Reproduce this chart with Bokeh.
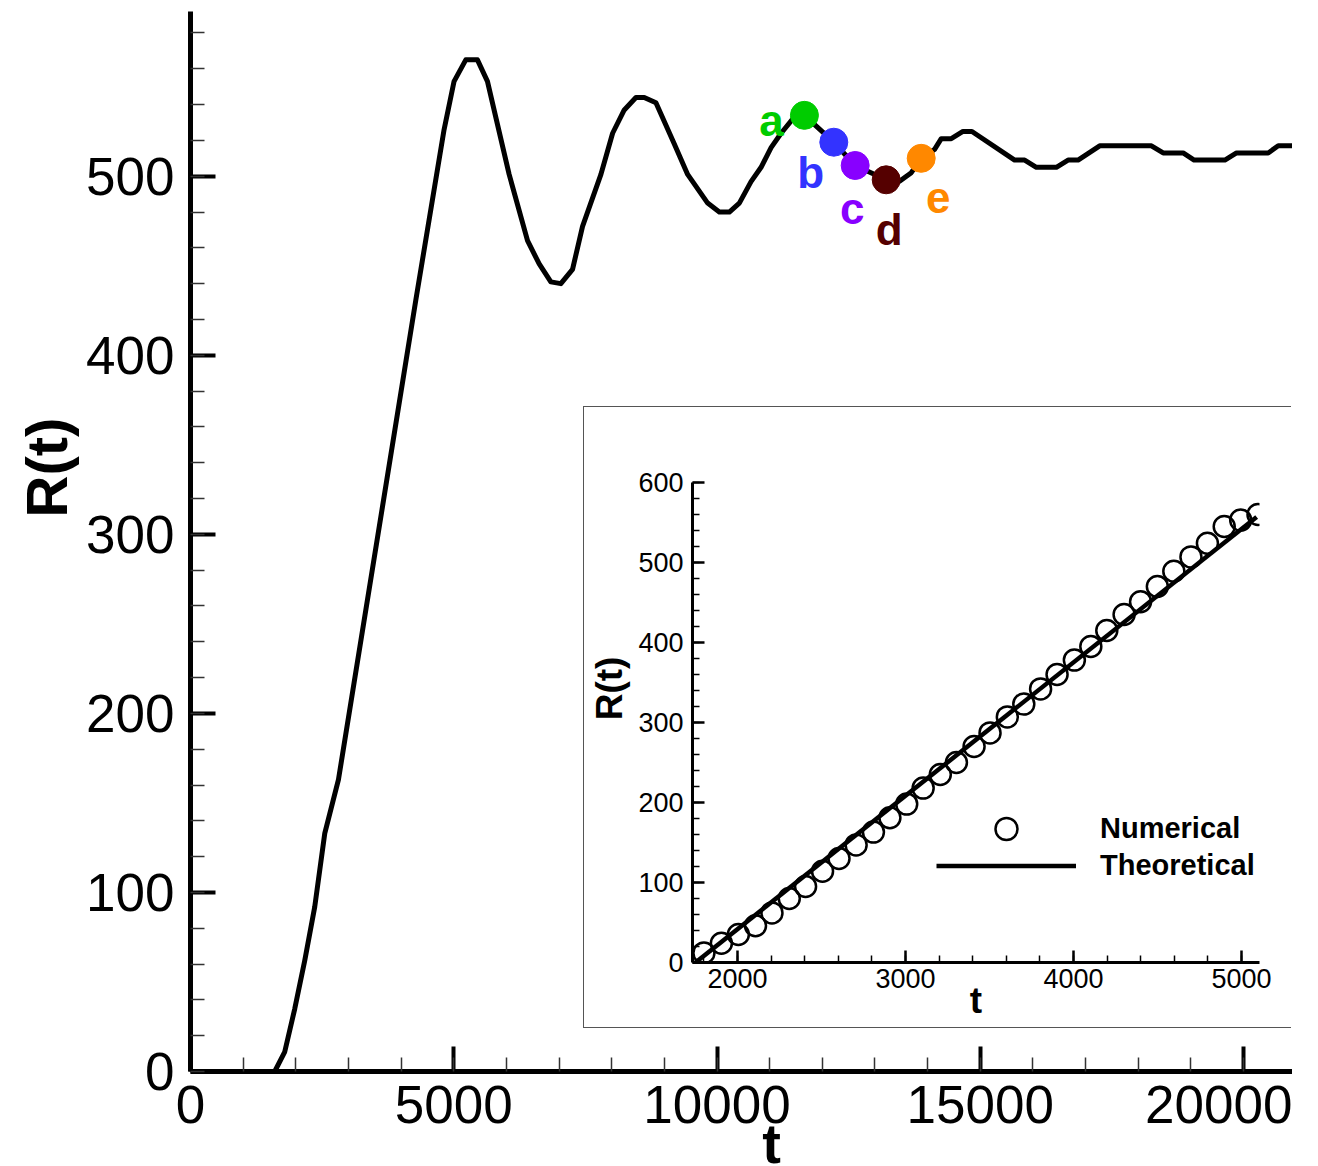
from bokeh.plotting import figure
from bokeh.models import Range1d, Legend, LegendItem, FixedTicker, ColumnDataSource
from bokeh.embed import file_html
from bokeh.resources import INLINE
from bokeh.core.properties import value
import math

# ---------------- data ----------------
t_main = [0, 1600, 1790, 1980, 2170, 2360, 2550, 2810, 4280, 4816, 5006, 5228, 5450,
          5640, 5798, 6052, 6401, 6623, 6844, 7034, 7256, 7446, 7795, 8017, 8238,
          8460, 8618, 8840, 9189, 9442, 9822, 10044, 10234, 10424, 10646, 10837,
          11027, 11217, 11439, 11660, 12218, 12624, 13213, 13460, 13690, 13878,
          14132, 14259, 14449, 14671, 14842, 15653, 15843, 16065, 16445, 16667,
          16857, 17268, 18251, 18473, 18853, 19062, 19645, 19867, 20469, 20659, 20944]
R_main = [0, 0, 11, 35, 62, 92, 133, 163, 431, 526, 553, 565, 565,
          553, 533, 501, 464, 451, 441, 440, 448, 472, 501, 524, 537,
          544, 544, 541, 518, 501, 485, 480, 480, 485, 497, 505,
          516, 524, 532, 534, 519, 506, 498, 497, 502, 510,
          515, 521, 521, 525, 525, 509, 509, 505, 505, 509,
          509, 517, 517, 513, 513, 509, 509, 513, 513, 517, 517]

mark_t = [11660, 12218, 12624, 13213, 13878]
mark_R = [534, 519, 506, 498, 510]
mark_labels = ["a", "b", "c", "d", "e"]

num_t = [1800, 1904, 2005, 2107, 2205, 2308, 2405, 2506, 2604, 2706, 2809, 2907,
         3007, 3105, 3207, 3303, 3408, 3503, 3606, 3704, 3804, 3902, 4005, 4103,
         4198, 4301, 4399, 4499, 4597, 4699, 4797, 4897, 4995, 5098]
num_R = [12, 24, 35, 46, 62, 80, 95, 114, 130, 147, 163, 181,
         198, 218, 235, 250, 270, 287, 307, 323, 342, 360, 378, 395,
         415, 435, 451, 470, 489, 507, 524, 545, 553, 560]

theo_t = [1750, 5090]
theo_R = [0, 557]

main_xticks = [0, 5000, 10000, 15000, 20000]
main_yticks = [0, 100, 200, 300, 400, 500]
inset_xticks = [2000, 3000, 4000, 5000]
inset_yticks = [0, 100, 200, 300, 400, 500, 600]

# axis titles
titles = ["t", "R(t)", "R(t)"]

# ---------------- styles ----------------
mark_colors = ["#00CC00", "#3333FF", "#8800FF", "#550000", "#FF8800"]
label_dx = [-33, -23, -3, 3, 17]
label_dy = [5, 30, 43, 50, 39]
FONT = "Liberation Sans"
W, H = 1292, 1164

# ---------------- main figure ----------------
p = figure(width=W, height=H, x_range=Range1d(0, 20930), y_range=Range1d(0, 592),
           output_backend="svg", toolbar_location=None,
           min_border_left=190, min_border_top=11, min_border_right=0, min_border_bottom=93)
p.outline_line_color = None
p.grid.visible = False
p.background_fill_color = None

p.line(t_main, R_main, line_width=5, line_color="black", line_join="round")

src = ColumnDataSource(dict(t=mark_t, R=mark_R, label=mark_labels, color=mark_colors,
                            dx=label_dx, dy=label_dy))
p.scatter("t", "R", source=src, marker="circle", size=28, fill_color="color", line_color="color")
p.text("t", "R", text="label", source=src, x_offset="dx", y_offset="dy", text_color="color",
       text_font=value(FONT), text_font_style="bold", text_font_size="44px",
       text_align="center", text_baseline="alphabetic")

p.xaxis.ticker = FixedTicker(ticks=main_xticks, minor_ticks=list(range(0, 21000, 1000)))
p.yaxis.ticker = FixedTicker(ticks=main_yticks, minor_ticks=list(range(0, 600, 20)))
for ax in (p.xaxis[0], p.yaxis[0]):
    ax.axis_line_width = 5
    ax.axis_line_color = "black"
    ax.major_tick_in = 25
    ax.major_tick_out = 0
    ax.major_tick_line_width = 4
    ax.minor_tick_in = 14
    ax.minor_tick_out = 0
    ax.minor_tick_line_width = 1.5
    ax.minor_tick_line_color = "#333333"
    ax.major_label_text_font = FONT
    ax.major_label_text_font_size = "53px"
    ax.major_label_text_color = "black"
p.xaxis.major_label_standoff = 14
p.yaxis.major_label_standoff = 16

# ---------------- inset figure ----------------
ins = figure(width=708, height=622, x_range=Range1d(1732, 5107), y_range=Range1d(0, 600),
             output_backend="svg", toolbar_location=None,
             min_border_left=108, min_border_right=33, min_border_top=75, min_border_bottom=67)
ins.outline_line_color = None
ins.grid.visible = False

ln = ins.line(theo_t, theo_R, line_width=4.5, line_color="black")
sc = ins.scatter(num_t, num_R, marker="circle", size=21, fill_color=None,
                 line_color="black", line_width=2.5)

ins.xaxis.ticker = FixedTicker(ticks=inset_xticks, minor_ticks=list(range(1800, 5200, 200)))
ins.yaxis.ticker = FixedTicker(ticks=inset_yticks, minor_ticks=list(range(0, 620, 20)))
ins.xaxis.axis_label = titles[0]
for ax in (ins.xaxis[0], ins.yaxis[0]):
    ax.axis_line_width = 3
    ax.axis_line_color = "black"
    ax.major_tick_in = 12
    ax.major_tick_out = 0
    ax.major_tick_line_width = 2.5
    ax.minor_tick_in = 7
    ax.minor_tick_out = 0
    ax.minor_tick_line_width = 1.5
    ax.major_label_text_font = FONT
    ax.major_label_text_font_size = "27px"
    ax.major_label_text_color = "black"
    ax.axis_label_text_font = FONT
    ax.axis_label_text_font_style = "bold"
    ax.axis_label_text_font_size = "37px"
    ax.axis_label_text_color = "black"
ins.xaxis.major_label_standoff = 6
ins.xaxis.axis_label_standoff = -11
ins.yaxis.major_label_standoff = 9

leg_common = dict(glyph_width=140, label_standoff=24, spacing=0, padding=0, margin=0,
                  border_line_color=None, background_fill_alpha=0, label_text_font=FONT,
                  label_text_font_style="bold", label_text_font_size="29px",
                  label_text_color="black")
leg1 = Legend(items=[LegendItem(label="Numerical", renderers=[sc])],
              location=(244, 106), glyph_height=55, **leg_common)
leg2 = Legend(items=[LegendItem(label="Theoretical", renderers=[ln])],
              location=(244, 80), glyph_height=33, **leg_common)
ins.add_layout(leg1)
ins.add_layout(leg2)

ins.styles = {"position": "absolute", "left": "583px", "top": "406px",
              "border-top": "1.5px solid #555555", "border-left": "1.5px solid #555555",
              "border-bottom": "1.5px solid #555555", "background-color": "white"}

# ---------------- transparent overlay carrying the axis titles ----------------
ov = figure(width=W, height=H, x_range=Range1d(0, W), y_range=Range1d(H, 0),
            output_backend="svg", toolbar_location=None, x_axis_type=None, y_axis_type=None,
            min_border_left=0, min_border_right=0, min_border_top=0, min_border_bottom=0)
ov.outline_line_color = None
ov.grid.visible = False
ov.background_fill_color = None
ov.border_fill_color = None
tsrc = ColumnDataSource(dict(x=[771, 46, 609], y=[1143, 467, 688], text=titles,
                             angle=[0, math.pi / 2, math.pi / 2],
                             size=["56px", "58px", "37px"]))
ov.text("x", "y", text="text", source=tsrc, angle="angle", text_font_size="size",
        text_baseline="middle", text_align="center", text_font=value(FONT),
        text_font_style="bold", text_color="black")
ov.styles = {"position": "absolute", "left": "0px", "top": "0px", "pointer-events": "none"}

open("out.html", "w").write(file_html([p, ins, ov], INLINE))
